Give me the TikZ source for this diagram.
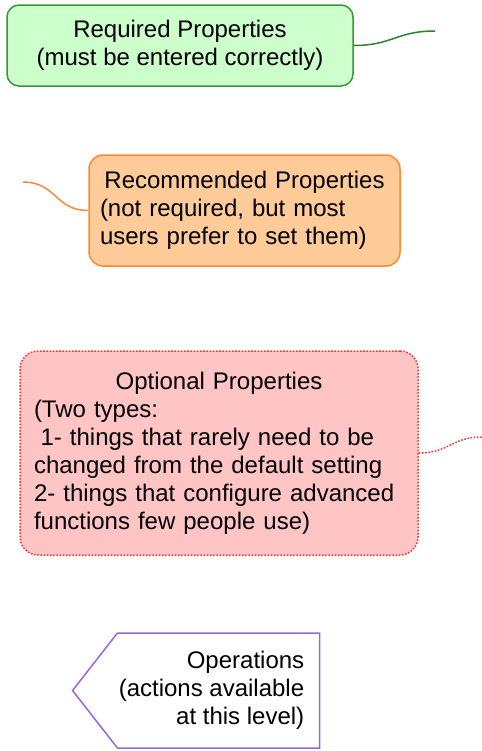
\documentclass[tikz,border=0pt]{standalone}
\usepackage{fontspec}
\setmainfont{Liberation Sans}
\usetikzlibrary{shapes.symbols}
\definecolor{reqfill}{HTML}{CCFFCC}
\definecolor{reqedge}{HTML}{339933}
\definecolor{recfill}{HTML}{FFCC99}
\definecolor{recedge}{HTML}{FF8833}
\definecolor{optfill}{HTML}{FFC4C4}
\definecolor{optedge}{HTML}{FF3333}
\definecolor{opsedge}{HTML}{9966DD}
\newcommand{\opspad}{\rule{7pt}{0pt}}

\begin{document}
\begin{tikzpicture}[
    x=0.5pt, y=-0.5pt,
    every node/.style={font=\fontsize{12}{14}\selectfont, inner sep=0pt},
    prop/.style={line width=0.75pt},
    reqbox/.style={prop, draw=reqedge, fill=reqfill, rounded corners=6pt, minimum width=173pt, minimum height=40.5pt, align=center},
    recbox/.style={prop, draw=recedge, fill=recfill, rounded corners=7pt, minimum width=155.5pt, minimum height=55.5pt, text width=144.5pt, align=left},
    optbox/.style={prop, draw=optedge, fill=optfill, rounded corners=9pt, dash pattern=on 0.8pt off 0.8pt, minimum width=199pt, minimum height=102pt, text width=185pt, align=left},
    opsbox/.style={prop, draw=opsedge, fill=white, signal, signal to=west, signal pointer angle=104, minimum width=123.5pt, minimum height=57.5pt, align=right},
    wire/.style={line width=0.75pt}
]
    \useasboundingbox (0,0) rectangle (482,751);

    \node[reqbox] (req) at (180,45.5) {Required Properties\\(must be entered correctly)};
    \node[recbox] (rec) at (244.5,210.5) {\makebox[\linewidth][c]{Recommended Properties}\\(not required, but most\\users prefer to set them)};
    \node[optbox] (opt) at (219,453) {\makebox[\linewidth][c]{Optional Properties}\\(Two types:\\\hspace*{3.3pt}1- things that rarely need to be\\changed from the default setting\\2- things that configure advanced\\functions few people use)};
    \node[opsbox] (ops) at (218.5,690.5) {Operations\opspad\\(actions available\opspad\\at this level)\opspad};

    % free ends of the connectors
    \coordinate (reqend) at (435,31);
    \coordinate (recend) at (23,182);
    \coordinate (optend) at (482,437);

    \draw[wire, draw=reqedge!85!black] (req.east) to[out=0, in=180, looseness=1.2] (reqend);
    \draw[wire, draw=recedge] (rec.west) to[out=180, in=0, looseness=1.2] (recend);
    \draw[wire, draw=optedge, dash pattern=on 0.8pt off 0.8pt] (opt.east) to[out=0, in=180, looseness=1.2] (optend);
\end{tikzpicture}
\end{document}
